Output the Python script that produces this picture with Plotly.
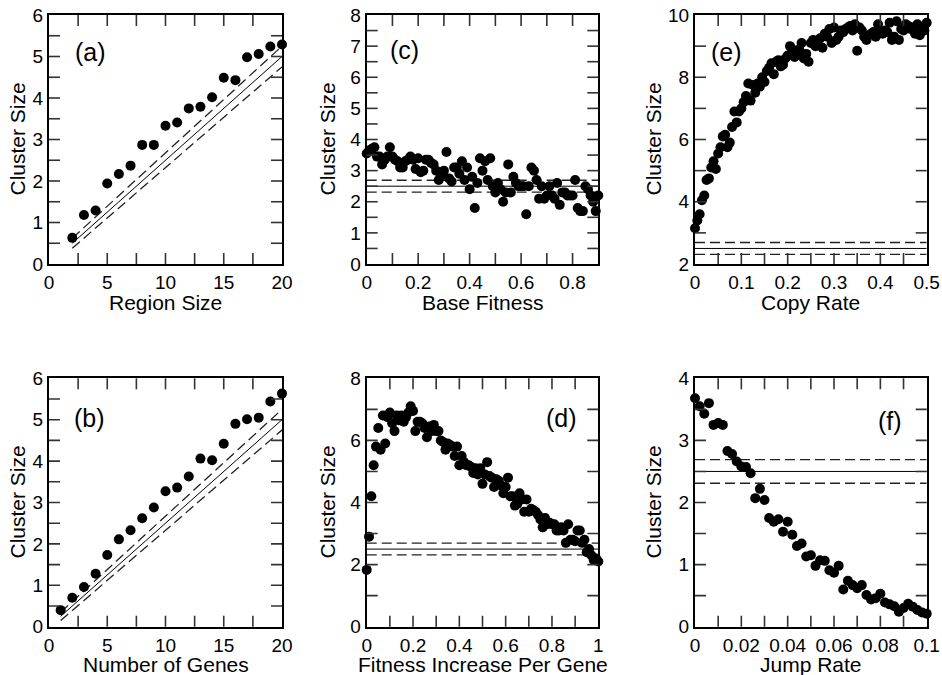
import plotly.graph_objects as go

# ---------------- data ----------------
# (a) Region Size
a_x = list(range(2, 21))
a_y = [0.63, 1.18, 1.29, 1.94, 2.17, 2.37, 2.87, 2.87, 3.33, 3.41, 3.75, 3.79,
       4.02, 4.49, 4.43, 4.98, 5.06, 5.24, 5.29]
a_line_x = [2, 20]
a_line_mid = [0.5, 5.0]
a_line_hi = [0.62, 5.25]
a_line_lo = [0.38, 4.75]

# (b) Number of Genes
b_x = list(range(1, 21))
b_y = [0.40, 0.70, 0.96, 1.28, 1.73, 2.11, 2.33, 2.62, 2.88, 3.27, 3.36, 3.63,
       4.06, 4.02, 4.42, 4.90, 5.01, 5.05, 5.44, 5.63]
b_line_x = [1, 20]
b_line_mid = [0.25, 5.0]
b_line_hi = [0.35, 5.25]
b_line_lo = [0.15, 4.75]

# (c) Base Fitness
c_x = [i / 100 for i in range(0, 91)]
c_y = [3.55, 3.65, 3.70, 3.75, 3.45, 3.45, 3.20, 3.35, 3.45, 3.75,
       3.45, 3.35, 3.30, 3.10, 3.10, 3.30, 3.35, 3.45, 3.35, 3.05,
       3.40, 2.95, 3.00, 3.35, 3.35, 3.25, 3.20, 3.00, 2.70, 2.85,
       3.00, 3.60, 2.75, 2.65, 3.10, 3.10, 2.90, 3.30, 2.70, 3.10,
       2.40, 2.80, 1.80, 2.60, 3.40, 3.00, 3.30, 2.70, 3.40, 2.50,
       2.30, 2.60, 2.40, 2.00, 2.30, 3.20, 2.30, 2.80, 2.60, 2.50,
       2.50, 2.50, 1.60, 2.50, 3.10, 3.00, 2.70, 2.10, 2.50, 2.10,
       2.20, 2.50, 2.20, 2.10, 2.60, 1.90, 2.30, 2.30, 2.20, 2.20,
       2.20, 2.70, 1.80, 1.70, 1.70, 2.50, 2.40, 2.20, 2.00, 1.70,
       2.20]

# (d) Fitness Increase Per Gene
d_x = [i / 100 for i in range(0, 101)]
d_y = [1.83, 2.90, 4.20, 5.20, 5.80, 6.40, 5.70, 6.80, 5.90, 6.75,
       6.90, 6.55, 6.30, 6.80, 6.65, 6.80, 6.60, 6.75, 6.90, 7.10,
       6.95, 6.30, 6.60, 6.60, 6.55, 6.40, 6.10, 6.45, 6.30, 6.50,
       6.30, 6.30, 6.00, 5.95, 5.70, 5.90, 5.85, 5.80, 5.50, 5.80,
       5.20, 5.50, 5.30, 5.20, 5.20, 5.15, 4.95, 5.10, 4.90, 5.10,
       4.60, 4.90, 5.30, 4.85, 4.80, 4.50, 4.75, 4.70, 4.55, 4.30,
       4.50, 4.80, 4.20, 4.20, 3.90, 3.95, 4.30, 4.10, 3.70, 4.10,
       3.70, 3.80, 3.75, 3.70, 3.60, 3.45, 3.20, 3.50, 3.30, 3.35,
       3.30, 3.30, 3.10, 3.10, 3.20, 3.10, 2.70, 3.30, 2.80, 2.80,
       2.75, 3.10, 3.10, 2.70, 2.80, 2.40, 2.50, 2.30, 2.15, 2.20,
       2.10]

# (e) Copy Rate
e_x = [i / 200 for i in range(0, 101)]
e_y = [3.15, 3.40, 3.60, 4.05, 4.20, 4.70, 4.75, 5.10, 5.30, 5.05,
       5.55, 5.75, 6.10, 6.15, 5.75, 5.90, 6.40, 6.90, 6.55, 6.90,
       7.00, 7.20, 7.40, 7.80, 7.25, 7.75, 7.50, 7.80, 7.70, 8.00,
       7.85, 8.20, 8.30, 8.45, 8.10, 8.50, 8.55, 8.35, 8.40, 8.60,
       8.70, 9.00, 8.90, 8.65, 8.80, 8.90, 9.10, 8.60, 8.75, 8.50,
       9.10, 9.20, 9.00, 9.15, 9.25, 8.95, 9.40, 9.30, 9.55, 9.10,
       9.60, 9.20, 9.30, 9.50, 9.45, 9.55, 9.60, 9.65, 9.50, 9.70,
       8.85, 9.60, 9.50, 9.30, 9.20, 9.35, 9.40, 9.45, 9.30, 9.70,
       9.45, 9.40, 9.50, 9.45, 9.75, 9.20, 9.30, 9.80, 9.20, 9.55,
       9.50, 9.70, 9.65, 9.55, 9.60, 9.40, 9.70, 9.35, 9.60, 9.50,
       9.75]

# (f) Jump Rate
f_x = [i / 500 for i in range(0, 51)]
f_y = [3.68, 3.55, 3.43, 3.60, 3.25, 3.28, 3.25, 2.83, 2.78, 2.66,
       2.58, 2.57, 2.47, 2.07, 2.22, 2.04, 1.75, 1.69, 1.73, 1.53,
       1.69, 1.48, 1.30, 1.34, 1.13, 1.15, 0.98, 1.07, 1.06, 0.91,
       0.87, 0.98, 0.60, 0.74, 0.67, 0.62, 0.67, 0.51, 0.44, 0.46,
       0.53, 0.39, 0.36, 0.33, 0.24, 0.30, 0.37, 0.32, 0.27, 0.23,
       0.21]

# horizontal reference band for (c)-(f)
h_mid = 2.5
h_hi = 2.69
h_lo = 2.31

# ---------------- figure ----------------
W, H = 942, 675
FONT = "Liberation Sans, Arial, Helvetica, sans-serif"

cols = [(49, 282), (366.7, 598.3), (695, 926.7)]
rows = [(15, 264), (378.3, 626.7)]

panels = [
    dict(x=a_x, y=a_y, col=0, row=0, xr=[0, 20], xd=5, xm=2.5, yr=[0, 6], yd=1, ym=0.5,
         lab="(a)", lp=(0.176, 0.85), xt="Region Size",
         lines=(a_line_x, a_line_mid, a_line_hi, a_line_lo)),
    dict(x=c_x, y=c_y, col=1, row=0, xr=[0, 0.9], xd=0.2, xm=0.1, yr=[0, 8], yd=1, ym=0.5,
         lab="(c)", lp=(0.165, 0.86), xt="Base Fitness", lines=None),
    dict(x=e_x, y=e_y, col=2, row=0, xr=[0, 0.5], xd=0.1, xm=0.05, yr=[2, 10], yd=2, ym=1,
         lab="(e)", lp=(0.138, 0.85), xt="Copy Rate", lines=None),
    dict(x=b_x, y=b_y, col=0, row=1, xr=[0, 20], xd=5, xm=2.5, yr=[0, 6], yd=1, ym=0.5,
         lab="(b)", lp=(0.174, 0.84), xt="Number of Genes",
         lines=(b_line_x, b_line_mid, b_line_hi, b_line_lo)),
    dict(x=d_x, y=d_y, col=1, row=1, xr=[0, 1], xd=0.2, xm=0.1, yr=[0, 8], yd=2, ym=1,
         lab="(d)", lp=(0.839, 0.84), xt="Fitness Increase Per Gene", lines=None),
    dict(x=f_x, y=f_y, col=2, row=1, xr=[0, 0.1], xd=0.02, xm=0.01, yr=[0, 4], yd=1, ym=0.5,
         lab="(f)", lp=(0.84, 0.83), xt="Jump Rate", lines=None),
]

fig = go.Figure()
TICKLEN = 11
TICKCOL = "#333"


def tick_values(rng, step):
    n = int(round((rng[1] - rng[0]) / step))
    return [rng[0] + k * step for k in range(1, n)]


for i, p in enumerate(panels, start=1):
    xa = "x" if i == 1 else f"x{i}"
    ya = "y" if i == 1 else f"y{i}"
    x0, x1 = cols[p["col"]]
    y0, y1 = rows[p["row"]]
    xdom = [x0 / W, x1 / W]
    ydom = [1 - y1 / H, 1 - y0 / H]

    dash = "10px,5px"
    if p["lines"] is not None:
        lx, lm, lh, ll = p["lines"]
    else:
        lx = list(p["xr"])
        lm = [h_mid, h_mid]
        lh = [h_hi, h_hi]
        ll = [h_lo, h_lo]
    fig.add_trace(go.Scatter(x=lx, y=lm, mode="lines", xaxis=xa, yaxis=ya,
                             line=dict(color="black", width=1), hoverinfo="skip"))
    fig.add_trace(go.Scatter(x=lx, y=lh, mode="lines", xaxis=xa, yaxis=ya,
                             line=dict(color="#222", width=1.3, dash=dash), hoverinfo="skip"))
    fig.add_trace(go.Scatter(x=lx, y=ll, mode="lines", xaxis=xa, yaxis=ya,
                             line=dict(color="#222", width=1.3, dash=dash), hoverinfo="skip"))
    fig.add_trace(go.Scatter(x=p["x"], y=p["y"], mode="markers", xaxis=xa, yaxis=ya,
                             marker=dict(color="black", size=10, line=dict(width=0)),
                             cliponaxis=False))

    axcommon = dict(showgrid=False, zeroline=False, showline=True, linecolor="black",
                    linewidth=2, mirror=True, ticks="", automargin=False,
                    tickfont=dict(family=FONT, size=19, color="black"))
    fig.layout[f"xaxis{'' if i == 1 else i}"] = dict(
        domain=xdom, anchor=ya, range=list(p["xr"]), tick0=p["xr"][0], dtick=p["xd"],
        **axcommon)
    fig.layout[f"yaxis{'' if i == 1 else i}"] = dict(
        domain=ydom, anchor=xa, range=list(p["yr"]), tick0=p["yr"][0], dtick=p["yd"],
        **axcommon)

    # inside tick marks on all four sides (major and minor, same length)
    fy = TICKLEN / (y1 - y0)
    fx = TICKLEN / (x1 - x0)
    for t in tick_values(p["xr"], p["xm"]):
        for a, b in ((0, fy), (1, 1 - fy)):
            fig.add_shape(type="line", xref=xa, yref=f"{ya} domain", x0=t, x1=t, y0=a, y1=b,
                          line=dict(color=TICKCOL, width=1.6), layer="above")
    for t in tick_values(p["yr"], p["ym"]):
        for a, b in ((0, fx), (1, 1 - fx)):
            fig.add_shape(type="line", xref=f"{xa} domain", yref=ya, x0=a, x1=b, y0=t, y1=t,
                          line=dict(color=TICKCOL, width=1.6), layer="above")

    fig.add_annotation(text=p["lab"], x=p["lp"][0], y=p["lp"][1],
                       xref=f"{xa} domain", yref=f"{ya} domain",
                       showarrow=False, xanchor="center", yanchor="middle",
                       font=dict(family=FONT, size=25, color="black"))
    xt_y = 302 if p["row"] == 0 else 664
    fig.add_annotation(text=p["xt"], x=(x0 + x1) / 2 / W, y=1 - xt_y / H,
                       xref="paper", yref="paper", showarrow=False,
                       xanchor="center", yanchor="middle",
                       font=dict(family=FONT, size=21, color="black"))
    yt_x = [17, 327, 653][p["col"]]
    fig.add_annotation(text="Cluster Size", x=yt_x / W, y=1 - (y0 + y1) / 2 / H,
                       xref="paper", yref="paper", showarrow=False, textangle=-90,
                       xanchor="center", yanchor="middle",
                       font=dict(family=FONT, size=21, color="black"))

fig.update_layout(template="none", width=W, height=H, margin=dict(l=0, r=0, t=0, b=0),
                  showlegend=False)

fig.write_html("out.html", config={"displayModeBar": False},
               post_script="document.body.style.margin='0px';")
